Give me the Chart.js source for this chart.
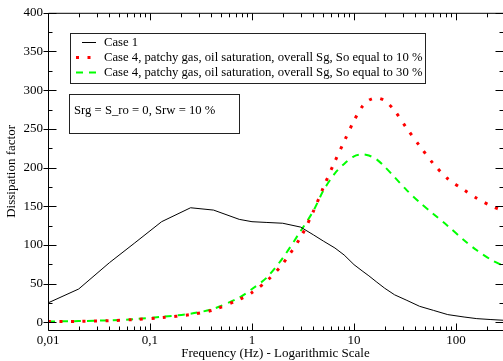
<!DOCTYPE html>
<html>
<head>
<meta charset="utf-8">
<script src="https://cdn.jsdelivr.net/npm/chart.js@4/dist/chart.umd.min.js"></script>
<style>
  html, body { margin: 0; padding: 0; background: #fff; }
</style>
</head>
<body>
<canvas id="chart" width="503" height="361"></canvas>
<script>
// valores (frequência em Hz)
var frequencias = [0.01, 0.02, 0.04, 0.07, 0.13, 0.25, 0.42, 0.75, 1, 1.4, 2, 3, 4, 5, 6.5, 8, 10, 12, 14, 16.5, 20, 25, 33, 44, 60, 83, 120, 160, 220, 290];
var caso1 = [25, 43, 77, 102, 130, 148, 145, 133, 130, 129, 128, 123, 113, 105, 96, 87, 74.5, 66.5, 60, 52.5, 44, 35.5, 28.3, 20.6, 15.4, 9.9, 6.8, 4.7, 3.5, 2.6];
var caso4So10 = [1, 1.2, 2, 3.5, 6, 10, 16, 29.5, 38.5, 53.5, 75.5, 110, 143.5, 174, 208, 233.5, 260.5, 278.5, 287, 290, 286.5, 273.5, 250.5, 228, 205, 185.5, 171, 160.3, 150.5, 144];
var caso4So30 = [1, 1.5, 2.5, 4, 7, 11, 17.5, 32, 43, 58, 83, 118, 144, 170, 192.5, 204.7, 214.5, 217, 215.5, 211, 201, 187.5, 170.5, 155, 140, 124.5, 106, 93, 81, 73];
var ticksX = [0.01, 0.1, 1, 10, 100];
var ticksY = [0, 50, 100, 150, 200, 250, 300, 350, 400];
var nomes = ['Case 1',
  'Case 4, patchy gas, oil saturation, overall Sg, So equal to 10 %',
  'Case 4, patchy gas, oil saturation, overall Sg, So equal to 30 %'];
var nota = 'Srg = S_ro = 0, Srw = 10 %';

function pares(vals) {
  return frequencias.map(function (f, i) { return { x: f, y: vals[i] }; });
}

var fonte = '"Liberation Serif", "DejaVu Serif", serif';
Chart.defaults.font.family = fonte;
Chart.defaults.font.size = 13;
Chart.defaults.color = '#000';

// moldura com ticks para dentro (estilo xmgrace), legenda e nota
var moldura = {
  id: 'moldura',
  afterDatasetsDraw: function (chart) {
    var ctx = chart.ctx, a = chart.chartArea;
    var sx = chart.scales.x, sy = chart.scales.y;
    var L = a.left + 0.5, R = a.right + 0.5, T = a.top + 0.5, B = a.bottom + 0.5;
    ctx.save();
    ctx.strokeStyle = '#000';
    ctx.lineWidth = 1;
    ctx.beginPath();
    ctx.moveTo(L, T); ctx.lineTo(R, T); ctx.lineTo(R, B); ctx.lineTo(L, B); ctx.closePath();

    // eixo x: decadas e menores
    for (var d = -2; d <= 2; d++) {
      for (var k = 1; k <= 9; k++) {
        var v = k * Math.pow(10, d);
        if (v < sx.min || v > sx.max) continue;
        var px = Math.round(sx.getPixelForValue(v)) + 0.5;
        var len = (k === 1) ? 7 : 4;
        ctx.moveTo(px, B); ctx.lineTo(px, B - len);
        ctx.moveTo(px, T); ctx.lineTo(px, T + len);
      }
    }
    // eixo y
    for (var y = 0; y <= 400; y += 25) {
      var py = Math.round(sy.getPixelForValue(y)) + 0.5;
      var maior = (y % 50 === 0);
      if (maior) {
        ctx.moveTo(L - 5, py); ctx.lineTo(L + 8, py);
        ctx.moveTo(R, py); ctx.lineTo(R - 8, py);
      } else {
        ctx.moveTo(L, py); ctx.lineTo(L + 4, py);
        ctx.moveTo(R, py); ctx.lineTo(R - 4, py);
      }
    }
    ctx.stroke();

    // legenda
    ctx.fillStyle = '#fff';
    ctx.fillRect(70, 33, 355, 50);
    ctx.strokeStyle = '#222';
    ctx.strokeRect(70.5, 33.5, 355, 50);
    ctx.font = '12.7px ' + fonte;
    ctx.textBaseline = 'middle';
    ctx.textAlign = 'left';
    chart.data.datasets.forEach(function (ds, i) {
      var ly = 42 + i * 15;
      ctx.save();
      ctx.strokeStyle = ds.borderColor;
      ctx.lineWidth = ds.borderWidth;
      ctx.setLineDash(ds.borderDash || []);
      ctx.beginPath();
      ctx.moveTo(i === 0 ? 82 : 76, ly + 0.5);
      ctx.lineTo(96, ly + 0.5);
      ctx.stroke();
      ctx.restore();
      ctx.fillStyle = '#000';
      ctx.fillText(ds.label, 104, ly + 1);
    });

    // caixa de nota
    ctx.strokeStyle = '#222';
    ctx.strokeRect(69.5, 94.5, 170, 39);
    ctx.fillStyle = '#000';
    ctx.fillText(nota, 74, 111);
    ctx.restore();
  }
};

var ctx = document.getElementById('chart').getContext('2d');
window.grafico = new Chart(ctx, {
  type: 'line',
  data: {
    datasets: [{
      label: nomes[0],
      data: pares(caso1),
      borderColor: '#000000',
      borderWidth: 1,
      pointRadius: 0,
      tension: 0
    }, {
      label: nomes[1],
      data: pares(caso4So10),
      borderColor: '#ff0000',
      borderWidth: 3,
      borderDash: [3, 8.5],
      borderCapStyle: 'butt',
      pointRadius: 0,
      tension: 0.3
    }, {
      label: nomes[2],
      data: pares(caso4So30),
      borderColor: '#00ff00',
      borderWidth: 2,
      borderDash: [7, 6],
      pointRadius: 0,
      tension: 0.3
    }]
  },
  options: {
    responsive: false,
    animation: false,
    devicePixelRatio: 1,
    layout: { padding: { top: 11, right: 0, left: 0, bottom: 0 } },
    plugins: { legend: { display: false }, tooltip: { enabled: false } },
    scales: {
      x: {
        type: 'logarithmic',
        min: 0.01,
        max: 289,
        grid: { display: false, drawTicks: false },
        border: { display: false },
        afterBuildTicks: function (s) { s.ticks = ticksX.map(function (v) { return { value: v }; }); },
        afterFit: function (s) { s.height = 31; },
        ticks: {
          autoSkip: false, maxRotation: 0, padding: 3,
          callback: function (v) { return String(v).replace('.', ','); }
        },
        title: { display: true, text: 'Frequency (Hz) - Logarithmic Scale', padding: 0 }
      },
      y: {
        min: -10,
        max: 400,
        grid: { display: false, drawTicks: false },
        border: { display: false },
        afterBuildTicks: function (s) { s.ticks = ticksY.map(function (v) { return { value: v }; }); },
        afterFit: function (s) { s.width = 48; },
        ticks: { padding: 5 },
        title: { display: true, text: 'Dissipation factor', padding: 4 }
      }
    }
  },
  plugins: [moldura]
});
</script>
</body>
</html>
